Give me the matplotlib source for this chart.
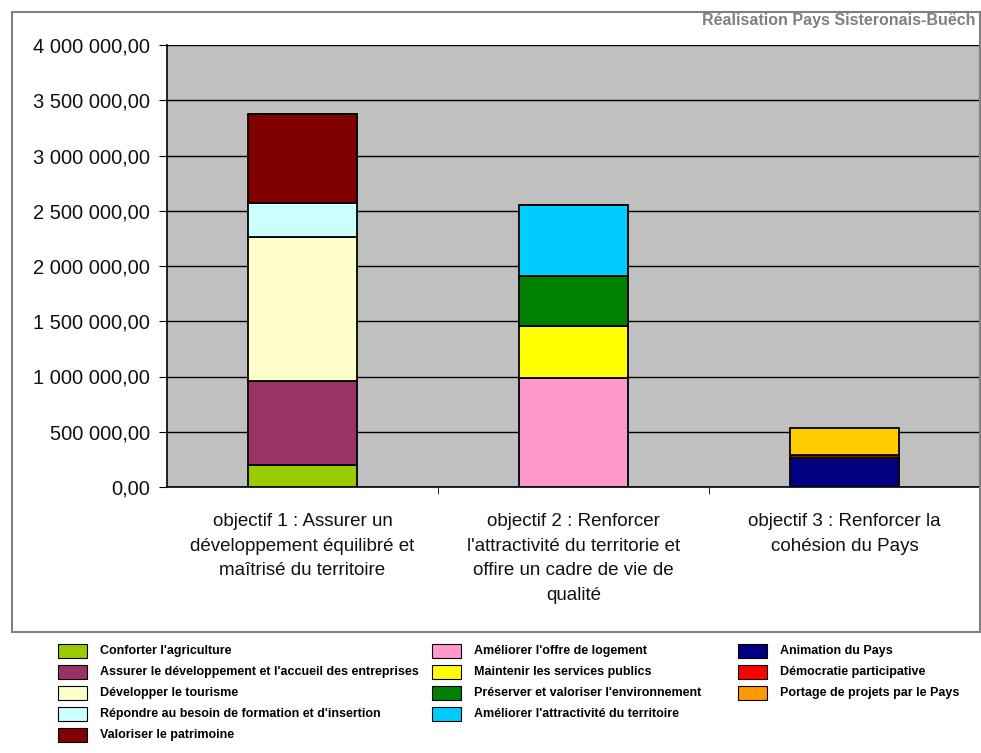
import matplotlib.pyplot as plt
from matplotlib.patches import Rectangle
from matplotlib.ticker import FuncFormatter, FixedLocator

categories = [
    "objectif 1 : Assurer un\ndéveloppement équilibré et\nmaîtrisé du territoire",
    "objectif 2 : Renforcer\nl'attractivité du territorie et\noffire un cadre de vie de\nqualité",
    "objectif 3 : Renforcer la\ncohésion du Pays",
]

series_names = [
    "Conforter l'agriculture",
    "Assurer le développement et l'accueil des entreprises",
    "Développer le tourisme",
    "Répondre au besoin de formation et d'insertion",
    "Valoriser le patrimoine",
    "Améliorer l'offre de logement",
    "Maintenir les services publics",
    "Préserver et valoriser l'environnement",
    "Améliorer l'attractivité du territoire",
    "Animation du Pays",
    "Démocratie participative",
    "Portage de projets par le Pays",
]

# values per series for [objectif 1, objectif 2, objectif 3]
agriculture = [199000, 0, 0]
entreprises = [760000, 0, 0]
tourisme = [1303000, 0, 0]
formation = [308000, 0, 0]
patrimoine = [806000, 0, 0]
logement = [0, 986000, 0]
services = [0, 471000, 0]
environnement = [0, 453000, 0]
attractivite = [0, 642000, 0]
animation = [0, 0, 266000]
democratie = [0, 0, 20000]
portage = [0, 0, 248000]
series_values = [agriculture, entreprises, tourisme, formation, patrimoine,
                 logement, services, environnement, attractivite,
                 animation, democratie, portage]

bar_colors = ['#99CC00', '#993366', '#FFFFCC', '#CCFFFF', '#800000',
              '#FF99CC', '#FFFF00', '#008000', '#00CCFF',
              '#000080', '#B00000', '#FFCC00']
legend_colors = bar_colors[:10] + ['#FF0000', '#FF9900']

fig = plt.figure(figsize=(9.81, 7.53), dpi=100)
fig.patch.set_facecolor('white')

# outer chart frame
fig.add_artist(Rectangle((12 / 981, 1 - 632 / 753), 968 / 981, 620 / 753,
                         transform=fig.transFigure, facecolor='none',
                         edgecolor='#808080', linewidth=1.5))

ax = fig.add_axes([167 / 981, 1 - 487 / 753, 813 / 981, 442 / 753])
ax.set_facecolor('#C0C0C0')

x = list(range(len(categories)))
bottom = [0] * len(categories)
for vals, col in zip(series_values, bar_colors):
    ax.bar(x, vals, 0.4, bottom=bottom, color=col, edgecolor='black',
           linewidth=1.3, zorder=3)
    bottom = [b + v for b, v in zip(bottom, vals)]

ax.set_xlim(-0.5, 2.5)
ax.set_ylim(0, 4000000)
ax.set_yticks(range(0, 4000001, 500000))
ax.yaxis.set_major_formatter(FuncFormatter(
    lambda v, p: f"{v:,.2f}".replace(',', ' ').replace('.', ',')))
ax.grid(axis='y', color='black', linewidth=1.0, zorder=1)

ax.set_xticks(x)
ax.set_xticklabels(categories, fontsize=13.5, family='Liberation Sans',
                   linespacing=1.58, color='#111111')
ax.xaxis.set_minor_locator(FixedLocator([0.5, 1.5]))
ax.tick_params(axis='x', which='major', length=0, pad=19)
ax.tick_params(axis='x', which='minor', length=5, direction='out')
ax.tick_params(axis='y', length=6, direction='out', pad=6)
for lab in ax.get_yticklabels():
    lab.set_fontsize(14.5)
    lab.set_family('Liberation Sans')
    lab.set_color('#111111')

for side in ['top', 'right']:
    ax.spines[side].set_visible(False)
ax.spines['left'].set_color('black')
ax.spines['bottom'].set_color('black')
ax.spines['left'].set_linewidth(1.2)
ax.spines['bottom'].set_linewidth(1.2)

fig.text(976 / 981, 1 - 21 / 753, 'Réalisation Pays Sisteronais-Buëch',
         ha='right', va='center', fontsize=11.5, fontweight='bold',
         color='#808080', family='Liberation Sans')

# legend laid out in three columns below the chart frame
col_x = [58, 432, 738]
col_rows = [5, 4, 3]
row_y = [651, 672, 693, 714, 735]
i = 0
for c, nrows in enumerate(col_rows):
    for r in range(nrows):
        px, py = col_x[c], row_y[r]
        fig.add_artist(Rectangle((px / 981, 1 - (py + 7) / 753), 29 / 981, 14 / 753,
                                 transform=fig.transFigure,
                                 facecolor=legend_colors[i], edgecolor='black',
                                 linewidth=0.8))
        fig.text((px + 42) / 981, 1 - py / 753, series_names[i],
                 ha='left', va='center', fontsize=9, fontweight='bold',
                 family='Liberation Sans', color='black')
        i += 1

fig.savefig('out.png', dpi=100, facecolor='white')
